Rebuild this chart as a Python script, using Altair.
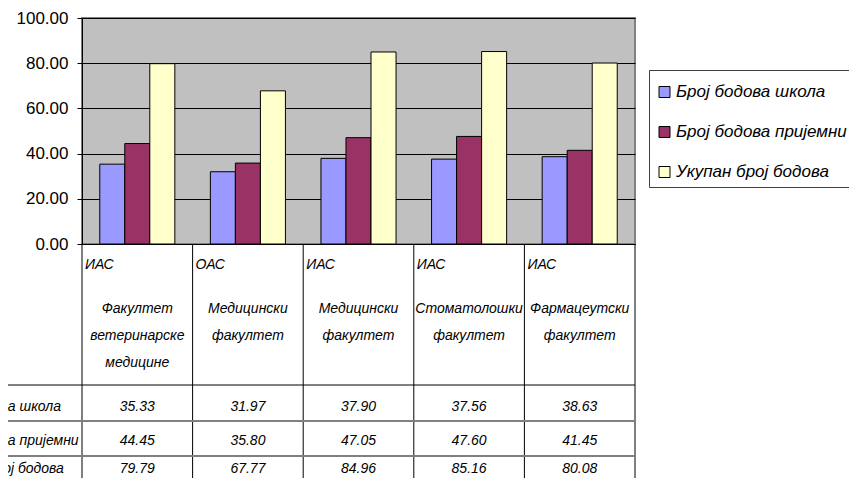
import altair as alt
import pandas as pd

# ---- data ----
types = ["ИАС", "ОАС", "ИАС", "ИАС", "ИАС"]
faculties = [
    "Факултет\nветеринарске\nмедицине",
    "Медицински\nфакултет",
    "Медицински\nфакултет",
    "Стоматолошки\nфакултет",
    "Фармацеутски\nфакултет",
]
series = ["Број бодова школа", "Број бодова пријемни", "Укупан број бодова"]
skola = [35.33, 31.97, 37.90, 37.56, 38.63]
prijemni = [44.45, 35.80, 47.05, 47.60, 41.45]
ukupno = [79.79, 67.77, 84.96, 85.16, 80.08]
y_ticks = [0, 20, 40, 60, 80, 100]

colors = ["#9999FF", "#993366", "#FFFFCC"]
FONT = "Liberation Sans"

keys = [t + " " + f.replace("\n", " ") for t, f in zip(types, faculties)]
cat_df = pd.DataFrame({"key": keys, "type": types, "fac": faculties})

rows = []
for s, vals in zip(series, [skola, prijemni, ukupno]):
    for k, v in zip(keys, vals):
        rows.append({"key": k, "series": s, "value": v})
df = pd.DataFrame(rows)

W, H = 553, 226


def xenc(band=0.5):
    return alt.X(
        "key:N",
        sort=keys,
        bandPosition=band,
        scale=alt.Scale(paddingInner=0, paddingOuter=0),
        axis=alt.Axis(title=None, labels=False, ticks=False, grid=False,
                      domain=True, domainColor="black", domainWidth=1),
    )


bars = alt.Chart(df).mark_bar(stroke="black", strokeWidth=1).encode(
    x=alt.X("key:N", sort=keys,
            scale=alt.Scale(paddingInner=0, paddingOuter=0),
            axis=alt.Axis(title=None, labels=False, ticks=False, grid=False,
                          domain=True, domainColor="black", domainWidth=1)),
    xOffset=alt.XOffset("series:N", sort=series,
                        scale=alt.Scale(paddingInner=0, paddingOuter=0.71)),
    y=alt.Y("value:Q",
            scale=alt.Scale(domain=[0, 100], nice=False),
            axis=alt.Axis(title=None, values=y_ticks, format=".2f",
                          grid=True, gridColor="black", gridWidth=1,
                          domainColor="black", tickColor="black", tickSize=5,
                          labelFont=FONT, labelFontSize=17, labelColor="black",
                          labelPadding=9)),
    color=alt.Color("series:N", sort=series,
                    scale=alt.Scale(domain=series, range=colors),
                    legend=alt.Legend(
                        title=" ", titleFontSize=4, titlePadding=2.5,
                        orient="none", legendX=567, legendY=52,
                        symbolType="square", symbolSize=121,
                        symbolStrokeColor="black", symbolStrokeWidth=1,
                        symbolOpacity=1,
                        labelFont=FONT, labelFontStyle="italic",
                        labelFontSize=17, labelColor="black", labelLimit=400,
                        padding=7, rowPadding=22, labelOffset=3,
                        fillColor="white", strokeColor="#404040")),
)

txt = dict(font=FONT, fontStyle="italic", fontSize=14, color="black")

type_text = alt.Chart(cat_df).mark_text(align="left", baseline="middle", dx=3, **txt).encode(
    x=xenc(0), y=alt.value(247), text="type:N")

fac_text = alt.Chart(cat_df).mark_text(align="center", baseline="top", lineBreak="\n",
                                       lineHeight=27, **txt).encode(
    x=xenc(0.5), y=alt.value(284), text="fac:N")

row_y = [389, 423, 451]
layers = [bars, type_text, fac_text]
for s, ry in zip(series, row_y):
    layers.append(
        alt.Chart(df).transform_filter(alt.datum.series == s)
        .mark_text(align="center", baseline="middle", **txt)
        .encode(x=xenc(0.5), y=alt.value(ry), text=alt.Text("value:Q", format=".2f"))
    )
    layers.append(
        alt.Chart(pd.DataFrame({"series": [s]}))
        .mark_text(align="left", baseline="middle", **txt)
        .encode(x=alt.value(-144), y=alt.value(ry), text="series:N")
    )

one = pd.DataFrame({"k": [0]})
vlines = alt.Chart(cat_df).mark_rule(color="black", strokeWidth=1).encode(
    x=xenc(0), y=alt.value(H), y2=alt.value(H + 300))
vright = alt.Chart(one).mark_rule(color="black", strokeWidth=1).encode(
    x=alt.value(W), y=alt.value(H), y2=alt.value(H + 300))
h1 = alt.Chart(one).mark_rule(color="black", strokeWidth=1).encode(
    x=alt.value(-90), x2=alt.value(W), y=alt.value(367))
h2 = alt.Chart(one).mark_rule(color="#808080", strokeWidth=2).encode(
    x=alt.value(-90), x2=alt.value(W), y=alt.value(403))
h3 = alt.Chart(one).mark_rule(color="#808080", strokeWidth=2).encode(
    x=alt.value(-90), x2=alt.value(W), y=alt.value(438))

layers += [vlines, vright, h1, h2, h3]

chart = alt.layer(*layers).properties(
    width=W, height=H,
    autosize=alt.AutoSizeParams(type="none"),
    padding={"left": 74, "top": 10, "right": 214, "bottom": 234},
).configure_view(fill="#C0C0C0", stroke="#808080", strokeWidth=2)

chart.save("out.html", embed_options={"renderer": "svg", "actions": False})
